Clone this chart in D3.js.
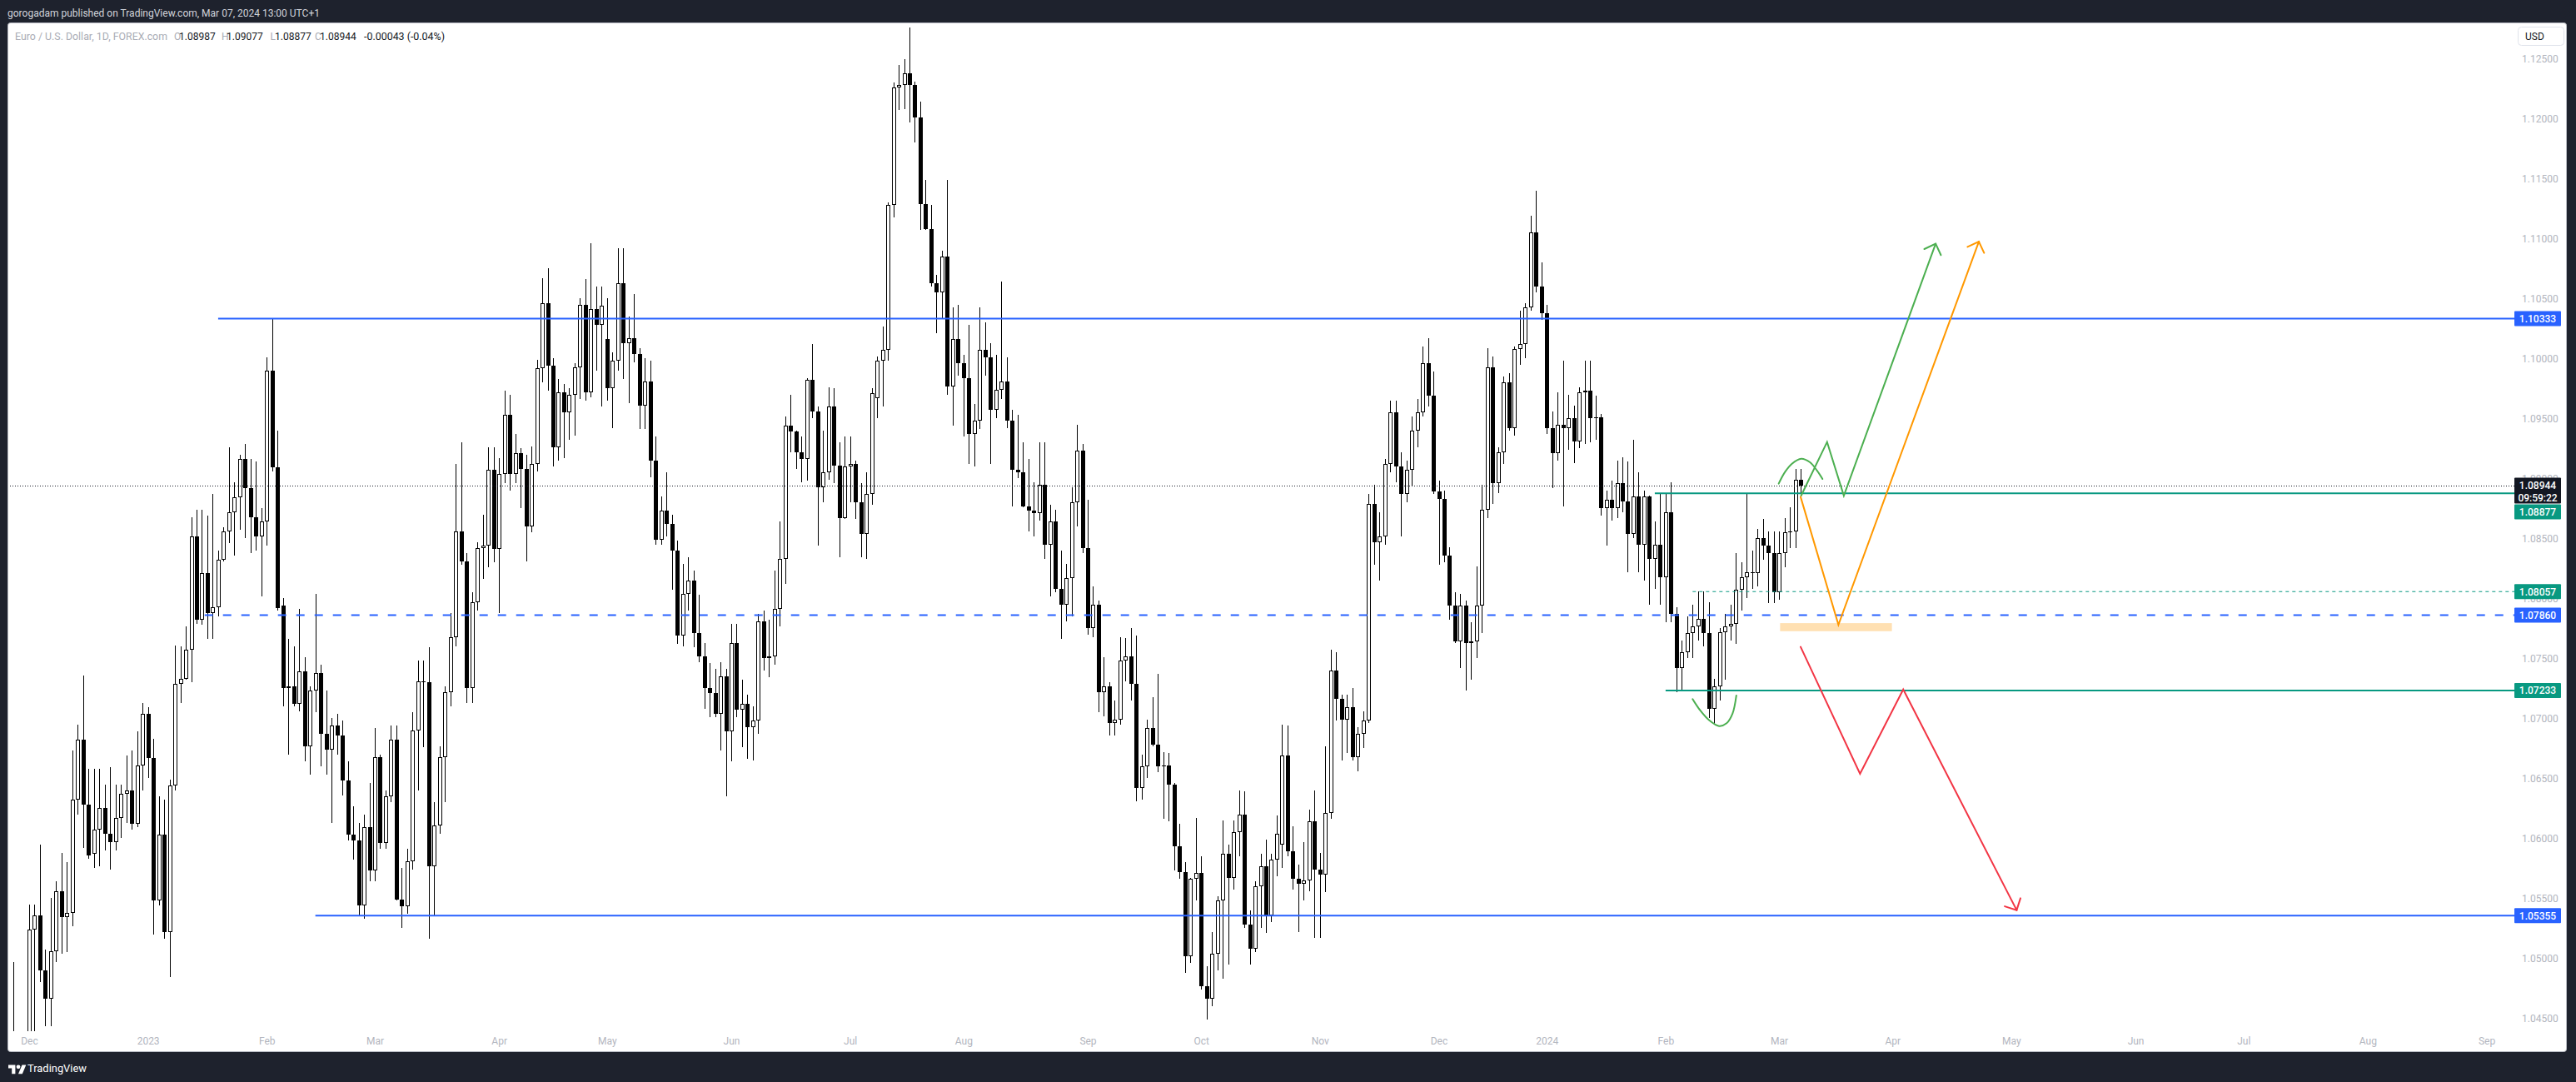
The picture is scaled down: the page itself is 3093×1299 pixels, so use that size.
<!DOCTYPE html>
<html><head><meta charset="utf-8">
<script src="https://cdn.jsdelivr.net/npm/d3@7"></script>
<style>html,body{margin:0;padding:0;background:#1e222d;}svg{display:block;}</style>
</head><body>
<svg id="chart" width="3093" height="1299"></svg>
<script>
// ---------------- DATA ----------------
// Daily EUR/USD candles [open, high, low, close], one small array per month
const nov2022 = [
 [1.0396,1.0497,1.0332,1.0341],[1.0341,1.0400,1.0290,1.0330],[1.0330,1.0429,1.0290,1.0405]];
const dec2022 = [
 [1.0405,1.0545,1.0394,1.0524],[1.0524,1.0545,1.0429,1.0536],[1.0536,1.0595,1.0480,1.0490],[1.0490,1.0507,1.0443,1.0466],
 [1.0466,1.0550,1.0443,1.0506],[1.0506,1.0564,1.0497,1.0556],[1.0556,1.0588,1.0504,1.0534],[1.0534,1.0580,1.0505,1.0538],
 [1.0538,1.0673,1.0527,1.0632],[1.0632,1.0695,1.0620,1.0682],[1.0682,1.0736,1.0592,1.0628],[1.0628,1.0658,1.0583,1.0586],
 [1.0587,1.0658,1.0575,1.0607],[1.0607,1.0658,1.0577,1.0625],[1.0625,1.0645,1.0590,1.0604],[1.0604,1.0659,1.0574,1.0597],
 [1.0597,1.0645,1.0590,1.0617],[1.0617,1.0645,1.0600,1.0637],[1.0637,1.0669,1.0613,1.0640],[1.0640,1.0673,1.0607,1.0612],
 [1.0612,1.0689,1.0609,1.0661],[1.0661,1.0713,1.0640,1.0704]];
const jan2023 = [
 [1.0704,1.0709,1.0650,1.0667],[1.0667,1.0683,1.0520,1.0548],[1.0548,1.0635,1.0544,1.0603],[1.0603,1.0632,1.0516,1.0522],
 [1.0522,1.0649,1.0484,1.0644],[1.0644,1.0761,1.0640,1.0729],[1.0729,1.0760,1.0713,1.0733],[1.0733,1.0777,1.0732,1.0757],
 [1.0757,1.0868,1.0730,1.0852],[1.0852,1.0874,1.0779,1.0782],[1.0782,1.0874,1.0778,1.0821],[1.0821,1.0869,1.0766,1.0788],
 [1.0788,1.0887,1.0766,1.0793],[1.0793,1.0840,1.0785,1.0832],[1.0832,1.0859,1.0831,1.0856],[1.0856,1.0926,1.0846,1.0872],
 [1.0872,1.0897,1.0836,1.0884],[1.0884,1.0920,1.0857,1.0916],[1.0916,1.0929,1.0850,1.0892],[1.0892,1.0916,1.0838,1.0868],
 [1.0868,1.0914,1.0840,1.0852],[1.0852,1.0875,1.0802,1.0864]];
const feb2023 = [
 [1.0864,1.1001,1.0844,1.0990],[1.0990,1.1033,1.0906,1.0909],[1.0909,1.0940,1.0790,1.0792],[1.0794,1.0800,1.0710,1.0725],
 [1.0725,1.0766,1.0670,1.0727],[1.0727,1.0760,1.0710,1.0712],[1.0712,1.0791,1.0706,1.0739],[1.0739,1.0751,1.0664,1.0677],
 [1.0677,1.0727,1.0653,1.0723],[1.0723,1.0804,1.0705,1.0738],[1.0738,1.0745,1.0660,1.0687],[1.0687,1.0723,1.0653,1.0674],
 [1.0674,1.0700,1.0613,1.0694],[1.0694,1.0704,1.0670,1.0686],[1.0686,1.0698,1.0636,1.0648],[1.0648,1.0664,1.0598,1.0603],
 [1.0603,1.0627,1.0582,1.0598],[1.0598,1.0613,1.0535,1.0544],[1.0544,1.0620,1.0533,1.0609],[1.0609,1.0646,1.0564,1.0573]];
const mar2023 = [
 [1.0573,1.0692,1.0564,1.0668],[1.0668,1.0670,1.0591,1.0596],[1.0596,1.0640,1.0591,1.0635],[1.0635,1.0694,1.0630,1.0682],
 [1.0682,1.0694,1.0548,1.0549],[1.0549,1.0575,1.0525,1.0543],[1.0543,1.0591,1.0537,1.0581],[1.0581,1.0705,1.0574,1.0690],
 [1.0690,1.0748,1.0640,1.0731],[1.0731,1.0748,1.0676,1.0730],[1.0730,1.0759,1.0516,1.0577],[1.0577,1.0630,1.0536,1.0611],
 [1.0611,1.0677,1.0604,1.0668],[1.0668,1.0727,1.0630,1.0722],[1.0722,1.0788,1.0710,1.0768],[1.0768,1.0912,1.0760,1.0856],
 [1.0856,1.0930,1.0828,1.0831],[1.0831,1.0838,1.0713,1.0725],[1.0725,1.0805,1.0713,1.0797],[1.0797,1.0847,1.0790,1.0842],
 [1.0842,1.0870,1.0816,1.0844],[1.0844,1.0926,1.0826,1.0907],[1.0907,1.0926,1.0830,1.0841]];
const apr2023 = [
 [1.0841,1.0917,1.0788,1.0904],[1.0904,1.0973,1.0896,1.0953],[1.0953,1.0970,1.0890,1.0904],[1.0904,1.0937,1.0896,1.0921],
 [1.0921,1.0925,1.0875,1.0908],[1.0908,1.0920,1.0831,1.0860],[1.0860,1.0927,1.0855,1.0912],[1.0912,1.0999,1.0906,1.0992],
 [1.0992,1.1067,1.0980,1.1046],[1.1046,1.1075,1.0973,1.0994],[1.0994,1.1000,1.0910,1.0926],[1.0926,1.0983,1.0915,1.0972],
 [1.0972,1.0979,1.0917,1.0955],[1.0955,1.0975,1.0932,1.0970],[1.0970,1.0996,1.0936,1.0993],[1.0993,1.1050,1.0966,1.1045],
 [1.1045,1.1066,1.0965,1.0972],[1.0972,1.1096,1.0968,1.1041],[1.1041,1.1060,1.0990,1.1028],[1.1028,1.1060,1.0960,1.1044]];
const may2023 = [
 [1.1016,1.1050,1.0965,1.0975],[1.0975,1.1005,1.0942,1.0998],[1.0998,1.1092,1.0990,1.1063],[1.1063,1.1092,1.0983,1.1013],
 [1.1013,1.1035,1.0963,1.1017],[1.1017,1.1054,1.0997,1.1004],[1.1004,1.1009,1.0941,1.0961],[1.0961,1.1000,1.0941,1.0981],
 [1.0981,1.0998,1.0901,1.0915],[1.0915,1.0935,1.0845,1.0849],[1.0849,1.0885,1.0845,1.0873],[1.0873,1.0905,1.0852,1.0862],
 [1.0862,1.0870,1.0807,1.0840],[1.0840,1.0848,1.0762,1.0769],[1.0769,1.0829,1.0760,1.0804],[1.0804,1.0834,1.0790,1.0815],
 [1.0815,1.0823,1.0759,1.0771],[1.0771,1.0803,1.0747,1.0752],[1.0752,1.0763,1.0708,1.0725],[1.0725,1.0746,1.0701,1.0721],
 [1.0721,1.0741,1.0701,1.0704],[1.0704,1.0747,1.0673,1.0735],[1.0735,1.0741,1.0635,1.0689]];
const jun2023 = [
 [1.0689,1.0779,1.0664,1.0763],[1.0763,1.0779,1.0701,1.0707],[1.0707,1.0732,1.0676,1.0712],[1.0712,1.0720,1.0666,1.0693],
 [1.0693,1.0710,1.0665,1.0698],[1.0698,1.0787,1.0687,1.0781],[1.0781,1.0790,1.0740,1.0750],[1.0750,1.0782,1.0734,1.0752],
 [1.0752,1.0823,1.0745,1.0791],[1.0791,1.0864,1.0777,1.0833],[1.0833,1.0952,1.0812,1.0944],[1.0944,1.0970,1.0922,1.0939],
 [1.0939,1.0940,1.0908,1.0922],[1.0922,1.0935,1.0897,1.0916],[1.0916,1.0984,1.0898,1.0982],[1.0982,1.1012,1.0950,1.0956],
 [1.0956,1.0960,1.0844,1.0893],[1.0893,1.0940,1.0880,1.0905],[1.0905,1.0976,1.0899,1.0960],[1.0960,1.0975,1.0896,1.0911],
 [1.0911,1.0930,1.0834,1.0867],[1.0867,1.0935,1.0866,1.0910]];
const jul2023 = [
 [1.0910,1.0935,1.0880,1.0912],[1.0912,1.0915,1.0866,1.0880],[1.0880,1.0896,1.0834,1.0854],[1.0854,1.0905,1.0833,1.0887],
 [1.0887,1.0975,1.0878,1.0971],[1.0967,1.1002,1.0950,1.0998],[1.0998,1.1027,1.0960,1.1007],[1.1007,1.1130,1.0998,1.1128],
 [1.1128,1.1230,1.1118,1.1226],[1.1226,1.1245,1.1207,1.1228],[1.1228,1.1250,1.1208,1.1238],[1.1238,1.1276,1.1197,1.1228],
 [1.1228,1.1231,1.1180,1.1201],[1.1201,1.1214,1.1107,1.1129],[1.1129,1.1149,1.1107,1.1108],[1.1108,1.1128,1.1060,1.1063],
 [1.1063,1.1070,1.1021,1.1055],[1.1055,1.1090,1.1034,1.1085],[1.1085,1.1149,1.0970,1.0977],[1.0977,1.1043,1.0944,1.1016],
 [1.1016,1.1045,1.0986,1.0996]];
const aug2023 = [
 [1.0996,1.1003,1.0935,1.0984],[1.0984,1.1028,1.0912,1.0937],[1.0937,1.0962,1.0910,1.0948],[1.0948,1.1043,1.0941,1.1007],
 [1.1007,1.1030,1.0986,1.1001],[1.1001,1.1013,1.0912,1.0957],[1.0957,1.1003,1.0950,1.0974],[1.0974,1.1064,1.0966,1.0981],
 [1.0981,1.1001,1.0942,1.0948],[1.0948,1.0957,1.0877,1.0907],[1.0907,1.0953,1.0900,1.0905],[1.0905,1.0930,1.0876,1.0877],
 [1.0877,1.0916,1.0856,1.0873],[1.0873,1.0897,1.0852,1.0871],[1.0871,1.0930,1.0865,1.0895],[1.0895,1.0930,1.0833,1.0845],
 [1.0845,1.0878,1.0802,1.0864],[1.0864,1.0874,1.0805,1.0808],[1.0808,1.0840,1.0766,1.0795],[1.0795,1.0829,1.0781,1.0817],
 [1.0817,1.0893,1.0785,1.0880],[1.0880,1.0945,1.0860,1.0923],[1.0923,1.0929,1.0838,1.0842]];
const sep2023 = [
 [1.0842,1.0882,1.0770,1.0775],[1.0775,1.0810,1.0768,1.0795],[1.0795,1.0798,1.0705,1.0722],[1.0722,1.0751,1.0702,1.0727],
 [1.0727,1.0730,1.0686,1.0696],[1.0696,1.0715,1.0686,1.0699],[1.0699,1.0768,1.0695,1.0748],[1.0748,1.0767,1.0731,1.0752],
 [1.0752,1.0775,1.0715,1.0729],[1.0729,1.0769,1.0631,1.0642],[1.0642,1.0670,1.0632,1.0660],[1.0660,1.0699,1.0650,1.0692],
 [1.0692,1.0718,1.0677,1.0678],[1.0678,1.0737,1.0655,1.0660],[1.0660,1.0672,1.0616,1.0661],[1.0661,1.0671,1.0614,1.0645],
 [1.0645,1.0646,1.0573,1.0593],[1.0593,1.0612,1.0566,1.0572],[1.0572,1.0580,1.0488,1.0502],[1.0502,1.0567,1.0496,1.0566],
 [1.0566,1.0617,1.0548,1.0571]];
const oct2023 = [
 [1.0571,1.0585,1.0474,1.0477],[1.0477,1.0493,1.0449,1.0466],[1.0466,1.0522,1.0460,1.0504],[1.0504,1.0552,1.0490,1.0548],
 [1.0548,1.0615,1.0483,1.0587],[1.0587,1.0595,1.0495,1.0567],[1.0567,1.0615,1.0557,1.0605],[1.0605,1.0640,1.0585,1.0620],
 [1.0620,1.0639,1.0525,1.0528],[1.0528,1.0540,1.0495,1.0508],[1.0508,1.0564,1.0505,1.0560],[1.0560,1.0587,1.0525,1.0577],
 [1.0577,1.0599,1.0521,1.0536],[1.0536,1.0587,1.0530,1.0582],[1.0582,1.0619,1.0568,1.0604],[1.0595,1.0695,1.0575,1.0669],
 [1.0669,1.0694,1.0585,1.0589],[1.0589,1.0610,1.0557,1.0566],[1.0566,1.0578,1.0522,1.0562],[1.0562,1.0597,1.0548,1.0565],
 [1.0565,1.0624,1.0556,1.0614],[1.0614,1.0640,1.0517,1.0574]];
const nov2023 = [
 [1.0574,1.0588,1.0517,1.0570],[1.0570,1.0677,1.0555,1.0621],[1.0621,1.0757,1.0616,1.0740],[1.0740,1.0755,1.0698,1.0716],
 [1.0716,1.0720,1.0665,1.0699],[1.0699,1.0720,1.0671,1.0709],[1.0709,1.0725,1.0665,1.0668],[1.0668,1.0693,1.0656,1.0687],
 [1.0687,1.0706,1.0675,1.0698],[1.0698,1.0887,1.0696,1.0879],[1.0879,1.0895,1.0828,1.0847],[1.0847,1.0872,1.0815,1.0852],
 [1.0852,1.0916,1.0845,1.0912],[1.0912,1.0965,1.0905,1.0955],[1.0955,1.0965,1.0897,1.0910],[1.0910,1.0922,1.0852,1.0887],
 [1.0887,1.0915,1.0880,1.0907],[1.0907,1.0952,1.0894,1.0940],[1.0940,1.0966,1.0926,1.0955],[1.0955,1.1010,1.0952,1.0996],
 [1.0996,1.1017,1.0960,1.0969],[1.0969,1.0989,1.0887,1.0889]];
const dec2023 = [
 [1.0889,1.0898,1.0828,1.0883],[1.0883,1.0890,1.0830,1.0836],[1.0836,1.0843,1.0782,1.0794],[1.0794,1.0805,1.0763,1.0764],
 [1.0764,1.0804,1.0742,1.0794],[1.0794,1.0798,1.0723,1.0763],[1.0763,1.0780,1.0732,1.0764],[1.0764,1.0827,1.0750,1.0794],
 [1.0794,1.0895,1.0771,1.0874],[1.0874,1.1009,1.0867,1.0993],[1.0993,1.1002,1.0879,1.0896],[1.0896,1.0926,1.0888,1.0922],
 [1.0922,1.0985,1.0912,1.0980],[1.0980,1.0988,1.0940,1.0942],[1.0942,1.1010,1.0936,1.1008],[1.1008,1.1040,1.0995,1.1012],
 [1.1012,1.1046,1.1000,1.1043],[1.1043,1.1119,1.1040,1.1105],[1.1105,1.1140,1.1055,1.1060],[1.1060,1.1080,1.1032,1.1038]];
const jan2024 = [
 [1.1038,1.1045,1.0937,1.0942],[1.0942,1.0956,1.0892,1.0921],[1.0921,1.0972,1.0915,1.0945],[1.0945,1.0998,1.0877,1.0942],
 [1.0942,1.0970,1.0924,1.0950],[1.0950,1.0961,1.0913,1.0931],[1.0931,1.0976,1.0925,1.0972],[1.0972,1.0998,1.0929,1.0973],
 [1.0973,1.0998,1.0930,1.0950],[1.0950,1.0969,1.0932,1.0951],[1.0951,1.0954,1.0869,1.0875],[1.0875,1.0890,1.0844,1.0882],
 [1.0882,1.0898,1.0865,1.0875],[1.0875,1.0915,1.0867,1.0896],[1.0896,1.0918,1.0872,1.0881],[1.0881,1.0914,1.0822,1.0854],
 [1.0854,1.0932,1.0850,1.0885],[1.0885,1.0905,1.0822,1.0845],[1.0845,1.0890,1.0815,1.0885],[1.0885,1.0886,1.0795,1.0833],
 [1.0833,1.0864,1.0808,1.0845],[1.0845,1.0888,1.0795,1.0818]];
const feb2024 = [
 [1.0818,1.0888,1.0780,1.0872],[1.0872,1.0897,1.0780,1.0787],[1.0787,1.0793,1.0722,1.0742],[1.0742,1.0765,1.0723,1.0755],
 [1.0755,1.0785,1.0750,1.0771],[1.0771,1.0795,1.0750,1.0777],[1.0777,1.0806,1.0765,1.0783],[1.0783,1.0806,1.0760,1.0771],
 [1.0771,1.0797,1.0700,1.0708],[1.0708,1.0733,1.0695,1.0727],[1.0727,1.0775,1.0715,1.0772],[1.0772,1.0787,1.0732,1.0777],
 [1.0777,1.0795,1.0765,1.0779],[1.0779,1.0838,1.0762,1.0807],[1.0807,1.0830,1.0790,1.0818],[1.0818,1.0888,1.0800,1.0822],
 [1.0822,1.0840,1.0808,1.0821],[1.0821,1.0858,1.0810,1.0850],[1.0850,1.0866,1.0832,1.0844],[1.0844,1.0856,1.0796,1.0838],
 [1.0838,1.0856,1.0796,1.0805]];
const mar2024 = [
 [1.0805,1.0856,1.0799,1.0838],[1.0838,1.0867,1.0826,1.0855],[1.0855,1.0876,1.0842,1.0856],[1.0856,1.0908,1.0842,1.08987],
 [1.08987,1.09077,1.08877,1.08944]];

const monthBlocks = [nov2022,dec2022,jan2023,feb2023,mar2023,apr2023,may2023,jun2023,jul2023,aug2023,
  sep2023,oct2023,nov2023,dec2023,jan2024,feb2024,mar2024];
const firstTradingDay = [2022, 10, 28];          // Nov 28, 2022
const closedDays = ["2023-12-25", "2024-01-01"];   // no FX bars
const monthNames = ["Jan","Feb","Mar","Apr","May","Jun","Jul","Aug","Sep","Oct","Nov","Dec"];
const priceTicks = [1.045,1.050,1.055,1.060,1.065,1.070,1.075,1.080,1.085,1.090,1.095,1.100,1.105,1.110,1.115,1.120,1.125];

// horizontal levels drawn on the chart
const levelPrices   = [1.10333, 1.07860, 1.05355, 1.08877, 1.08057, 1.07233];
const levelFromBar  = [38, 35.5, 56, 304, 311, 306];
const levelKinds    = ["blue","blueDash","blue","teal","tealDash","teal"];

// drawings in (bar index, price)
const greenPath  = [[331.1,1.08857],[335.9,1.09304],[339.0,1.08857],[356.0,1.10957]];
const orangePath = [[331.0,1.08846],[338.0,1.07781],[364.0,1.10975]];
const redPath    = [[331.0,1.07596],[342.0,1.06538],[350.0,1.07241],[371.0,1.05401]];
const upperArc   = [[326.94,1.08957],[328.11,1.09054],[329.40,1.09123],[331.10,1.09165],[332.74,1.09135],[334.03,1.09066],[335.05,1.08996]];
const lowerArc   = [[311.0,1.07161],[312.45,1.07064],[314.0,1.06987],[315.9,1.06936],[317.3,1.06959],[318.4,1.07040],[319.1,1.07191]];
const zoneBars   = [327.2, 347.9];
const zonePrices = [1.07794, 1.07727];

const headerText = "gorogadam published on TradingView.com, Mar 07, 2024 13:00 UTC+1";
const symbolText = "Euro / U.S. Dollar, 1D, FOREX.com";
const countdown  = "09:59:22";

// ---------------- BUILD ----------------
const candles = [].concat(...monthBlocks).map((r,i)=>({i, o:r[0], h:Math.max(r[0],r[1],r[3]), l:Math.min(r[0],r[2],r[3]), c:r[3]}));
const days = [];
{
  let d = new Date(Date.UTC(firstTradingDay[0], firstTradingDay[1], firstTradingDay[2]));
  while (days.length < candles.length + 150) {
    const wd = d.getUTCDay(), iso = d.toISOString().slice(0,10);
    if (wd !== 0 && wd !== 6 && !closedDays.includes(iso)) days.push(new Date(d));
    d = d3.utcDay.offset(d, 1);
  }
}

const W = 3093, H = 1299;
const FONT = "Roboto, 'Liberation Sans', Arial, sans-serif";
const plot = {left: 9, right: 3019, top: 27, bottom: 1237};
const svg = d3.select("#chart");

const x = d3.scaleLinear().domain([0, candles.length - 1]).range([15.5, 2162]);
const y = d3.scaleLinear().domain(d3.extent(priceTicks)).range([1222.4, 70.5]);

svg.append("rect").attr("width", W).attr("height", H).attr("fill", "#1e222d");
svg.append("text").attr("x", 9).attr("y", 20).attr("fill", "#d1d4dc").attr("font-size", 12)
  .attr("font-family", FONT).attr("textLength", 375).attr("lengthAdjust", "spacingAndGlyphs").text(headerText);

svg.append("rect").attr("x", 9.5).attr("y", 27.5).attr("width", 3072).attr("height", 1235).attr("rx", 3)
  .attr("fill", "#ffffff").attr("stroke", "#b8bbc3").attr("stroke-width", 1);

const defs = svg.append("defs");
defs.append("clipPath").attr("id", "plotClip").append("rect")
  .attr("x", plot.left + 1).attr("y", plot.top + 1).attr("width", plot.right - plot.left).attr("height", plot.bottom - plot.top);

const gPlot = svg.append("g").attr("clip-path", "url(#plotClip)");

// zone
gPlot.append("rect").attr("x", x(zoneBars[0])).attr("width", x(zoneBars[1]) - x(zoneBars[0]))
  .attr("y", y(zonePrices[0])).attr("height", y(zonePrices[1]) - y(zonePrices[0]))
  .attr("fill", "#ffe0b2");

// candles
const gC = gPlot.append("g").attr("shape-rendering", "crispEdges");
const cx = d => Math.round(x(d.i));
gC.selectAll("rect.wick").data(candles).join("rect").attr("class", "wick")
  .attr("x", d => cx(d)).attr("width", 1)
  .attr("y", d => Math.round(y(d.h))).attr("height", d => Math.max(1, Math.round(y(d.l)) - Math.round(y(d.h))))
  .attr("fill", "#000");
gC.selectAll("rect.body").data(candles).join("rect").attr("class", "body")
  .attr("x", d => cx(d) - 2).attr("width", 5)
  .attr("y", d => Math.round(y(Math.max(d.o, d.c))))
  .attr("height", d => Math.max(1, Math.round(y(Math.min(d.o, d.c))) - Math.round(y(Math.max(d.o, d.c)))))
  .attr("fill", "#000");
gC.selectAll("rect.hollow").data(candles.filter(d => d.c > d.o)).join("rect").attr("class", "hollow")
  .attr("x", d => cx(d) - 1).attr("width", 3)
  .attr("y", d => Math.round(y(d.c)) + 1)
  .attr("height", d => Math.max(0, Math.round(y(d.o)) - Math.round(y(d.c)) - 2))
  .attr("fill", "#fff");

// horizontal levels
const kindStyle = {
  blue: {color: "#2962ff", w: 2, dash: null},
  blueDash: {color: "#2962ff", w: 2, dash: "10,12"},
  teal: {color: "#089981", w: 2, dash: null},
  tealDash: {color: "#089981", w: 1, dash: "4,4"}
};
levelPrices.forEach((p, k) => {
  const s = kindStyle[levelKinds[k]];
  gPlot.append("line").attr("x1", x(levelFromBar[k])).attr("x2", plot.right)
    .attr("y1", y(p)).attr("y2", y(p)).attr("stroke", s.color).attr("stroke-width", s.w)
    .attr("stroke-dasharray", s.dash);
});

// last price dotted line
const last = candles[candles.length - 1];
const prevClose = candles[candles.length - 2].c;
gPlot.append("line").attr("x1", plot.left).attr("x2", plot.right)
  .attr("y1", Math.round(y(last.c)) + 0.5).attr("y2", Math.round(y(last.c)) + 0.5)
  .attr("stroke", "#131722").attr("stroke-width", 1).attr("stroke-dasharray", "1,2");

// drawings
const lineGen = d3.line().x(d => x(d[0])).y(d => y(d[1]));
const curveGen = d3.line().x(d => x(d[0])).y(d => y(d[1])).curve(d3.curveCatmullRom);
function arrowHead(pts) {
  const a = pts[pts.length - 2], b = pts[pts.length - 1];
  const ax = x(a[0]), ay = y(a[1]), bx = x(b[0]), by = y(b[1]);
  const ang = Math.atan2(ay - by, ax - bx), L = 15, s = Math.PI / 4;
  return [[bx + L * Math.cos(ang + s), by + L * Math.sin(ang + s)], [bx, by], [bx + L * Math.cos(ang - s), by + L * Math.sin(ang - s)]];
}
const gD = gPlot.append("g").attr("fill", "none").attr("stroke-linejoin", "miter").attr("stroke-linecap", "round");
[[greenPath, "#4caf50"], [orangePath, "#ff9800"], [redPath, "#f23645"]].forEach(([pts, col]) => {
  gD.append("path").attr("d", lineGen(pts)).attr("stroke", col).attr("stroke-width", 2);
  gD.append("path").attr("d", d3.line()(arrowHead(pts))).attr("stroke", col).attr("stroke-width", 2);
});
[upperArc, lowerArc].forEach(pts => {
  gD.append("path").attr("d", curveGen(pts)).attr("stroke", "#4caf50").attr("stroke-width", 2);
});

// price axis
const yAxis = svg.append("g").attr("transform", `translate(${plot.right + 1},0)`)
  .call(d3.axisRight(y).tickValues(priceTicks).tickFormat(d3.format(".5f")).tickSize(0).tickPadding(8));
yAxis.select(".domain").remove();
yAxis.selectAll("text").attr("fill", "#b2b5be").attr("font-size", 12).attr("font-family", FONT);

// time axis
const monthIdx = [];
for (let i = 1; i < days.length; i++) {
  if (days[i].getUTCMonth() !== days[i - 1].getUTCMonth() && x(i) < 3000) monthIdx.push(i);
}
const xAxis = svg.append("g").attr("transform", `translate(0,${plot.bottom})`)
  .call(d3.axisBottom(x).tickValues(monthIdx).tickSize(0).tickPadding(8)
    .tickFormat(i => days[i].getUTCMonth() === 0 ? String(days[i].getUTCFullYear()) : monthNames[days[i].getUTCMonth()]));
xAxis.select(".domain").remove();
xAxis.selectAll("text").attr("fill", "#b2b5be").attr("font-size", 12).attr("font-family", FONT);

// legend
const f5 = d3.format(".5f");
const chg = last.c - prevClose;
const legendParts = [
  [18, symbolText, "#a9acb5", 183],
  [209, "O", "#a9acb5"], [215, f5(last.o), "#131722"],
  [266, "H", "#a9acb5"], [272, f5(last.h), "#131722"],
  [324.5, "L", "#a9acb5"], [330, f5(last.l), "#131722"],
  [378, "C", "#a9acb5"], [384, f5(last.c), "#131722"],
  [437, `${d3.format(".5f")(chg).replace("−","-")} (${d3.format(".2f")(chg / prevClose * 100).replace("−","-")}%)`, "#131722", 97]
];
legendParts.forEach(p => {
  const t = svg.append("text").attr("x", p[0]).attr("y", 48).attr("fill", p[2]).attr("font-size", 12)
    .attr("font-family", FONT).text(p[1]);
  if (p[3]) t.attr("textLength", p[3]).attr("lengthAdjust", "spacingAndGlyphs");
});

// USD box
svg.append("rect").attr("x", 3023.5).attr("y", 32.5).attr("width", 55).attr("height", 22).attr("rx", 4)
  .attr("fill", "#fff").attr("stroke", "#e0e3eb");
svg.append("text").attr("x", 3032).attr("y", 48).attr("fill", "#131722").attr("font-size", 12)
  .attr("font-family", FONT).text("USD");

// right price labels (stacked to avoid overlap)
const kindFill = {blue: "#2962ff", blueDash: "#2962ff", teal: "#089981", tealDash: "#089981"};
const boxes = [{price: last.c, fill: "#131722", lines: [f5(last.c), countdown], h: 31}]
  .concat(levelPrices.map((p, k) => ({price: p, fill: kindFill[levelKinds[k]], lines: [f5(p)], h: 18})));
boxes.forEach(b => { b.top = y(b.price) - 9; });
const placed = [];
boxes.sort((a, b) => a.top - b.top);
boxes.forEach(b => {
  placed.forEach(p => { if (b.top < p.top + p.h + 1 && b.top + b.h > p.top) b.top = p.top + p.h + 1; });
  placed.push(b);
});
const gL = svg.append("g");
boxes.forEach(b => {
  gL.append("rect").attr("x", 3019).attr("y", b.top).attr("width", 56).attr("height", b.h).attr("rx", 1).attr("fill", b.fill);
  b.lines.forEach((s, j) => {
    gL.append("text").attr("x", 3047).attr("y", b.top + 13.5 + j * 15).attr("text-anchor", "middle")
      .attr("fill", "#ffffff").attr("font-size", 12).attr("font-family", FONT).attr("font-weight", 500).text(s);
  });
});

// footer logo
const logo = svg.append("g").attr("transform", "translate(10,1276) scale(0.6)").attr("fill", "#ffffff");
logo.append("path").attr("d", "M14 22H7V11H0V4h14v18z");
logo.append("circle").attr("cx", 20).attr("cy", 8).attr("r", 4);
logo.append("path").attr("d", "M28 22h-8l7.5-18h8z");
svg.append("text").attr("x", 33).attr("y", 1287).attr("fill", "#ffffff").attr("font-size", 13)
  .attr("font-family", FONT).attr("textLength", 71).attr("lengthAdjust", "spacingAndGlyphs").text("TradingView");
</script>
</body></html>
